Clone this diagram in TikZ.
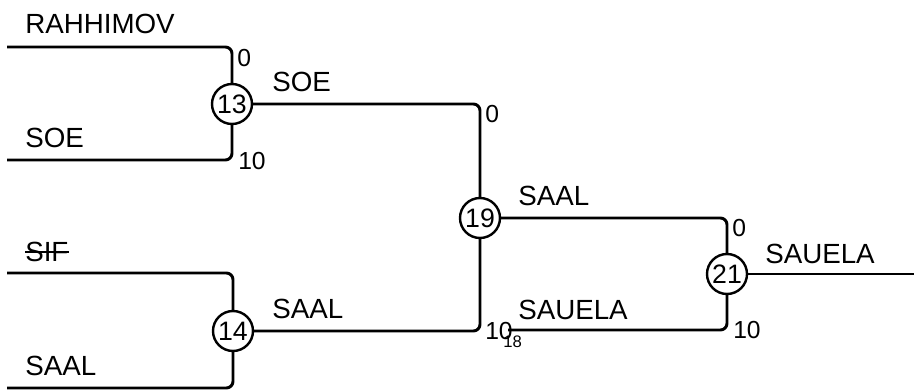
\documentclass[tikz,border=0pt]{standalone}
\usepackage{fontspec}
\setmainfont{Liberation Sans}
\begin{document}
\begin{tikzpicture}[x=0.75pt,y=-0.75pt,
  wire/.style={line width=2.2pt, rounded corners=5pt},
  matchnode/.style={circle, draw, line width=1.8pt, minimum size=30pt, inner sep=0pt, font=\fontsize{20}{22}\selectfont},
  namelbl/.style={anchor=base west, inner sep=0pt, font=\fontsize{20.8}{22}\selectfont},
  seedlbl/.style={anchor=base west, inner sep=0pt, font=\fontsize{18.5}{20}\selectfont},
  tinylbl/.style={anchor=base west, inner sep=0pt, font=\fontsize{12.5}{14}\selectfont},
  strikeline/.style={line width=1.1pt}]
\path[use as bounding box, fill=white] (0,0) rectangle (914,392);
\node[matchnode] (m13) at (232,104) {13};
\node[matchnode] (m14) at (233,331) {14};
\node[matchnode] (m19) at (480,218) {19};
\node[matchnode] (m21) at (727,274) {21};
\coordinate (a1) at (7,47);
\coordinate (a2) at (7,160);
\coordinate (b1) at (7,273);
\coordinate (b2) at (7,388);
\coordinate (out) at (914,274);
\coordinate (from18) at (508,330);
\draw[wire] (a1) -- (m13.north |- a1) -- (m13.north);
\draw[wire] (a2) -- (m13.south |- a2) -- (m13.south);
\draw[wire] (b1) -- (m14.north |- b1) -- (m14.north);
\draw[wire] (b2) -- (m14.south |- b2) -- (m14.south);
\draw[wire] (m13.east) -- (m19.north |- m13.east) -- (m19.north);
\draw[wire] (m14.east) -- (m19.south |- m14.east) -- (m19.south);
\draw[wire] (m19.east) -- (m21.north |- m19.east) -- (m21.north);
\draw[wire] (from18) -- (m21.south |- from18) -- (m21.south);
\draw[wire] (m21.east) -- (out);
\node[namelbl] (t1) at (25,34) {RAHHIMOV};
\node[namelbl] (t2) at (25,148) {SOE};
\node[namelbl] (t3) at (25,262) {SIF};
\draw[strikeline] ([yshift=7.5pt]t3.base west) -- ([yshift=7.5pt]t3.base east);
\node[namelbl] (t4) at (25,375) {SAAL};
\node[namelbl] (l13) at (272,92) {SOE};
\node[namelbl] (l14) at (272,318) {SAAL};
\node[namelbl] (l19) at (518,206) {SAAL};
\node[namelbl] (l18) at (518,319) {SAUELA};
\node[namelbl] (l21) at (765,263) {SAUELA};
\node[seedlbl] (s1) at (237,67) {0};
\node[seedlbl] (s2) at (238,170) {10};
\node[seedlbl] (s3) at (485,123) {0};
\node[seedlbl] (s4) at (485,339) {10};
\node[seedlbl] (s5) at (732,237) {0};
\node[seedlbl] (s6) at (733,338) {10};
\node[tinylbl] (s7) at (503,347) {18};
\end{tikzpicture}
\end{document}
